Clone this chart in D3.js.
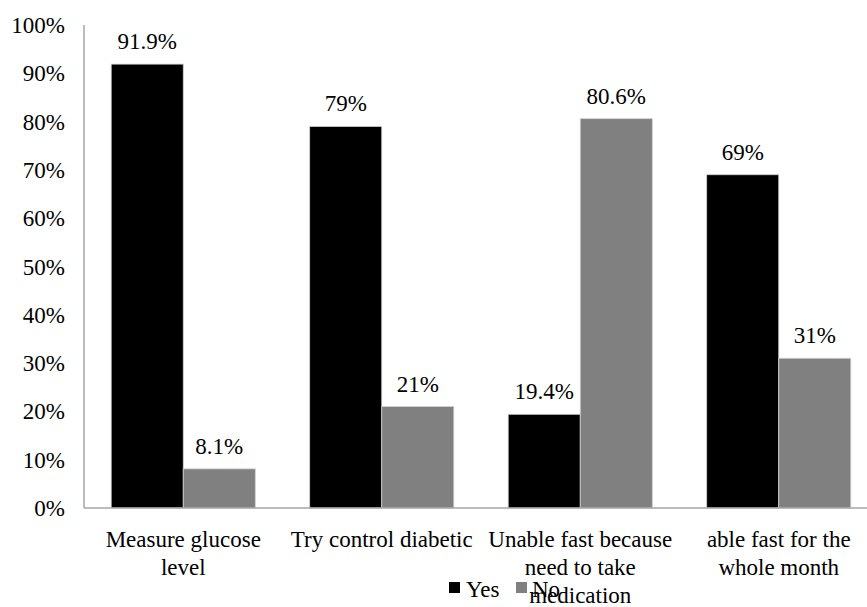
<!DOCTYPE html>
<html>
<head>
<meta charset="utf-8">
<script src="https://cdn.jsdelivr.net/npm/d3@7"></script>
</head>
<body style="margin:0">
<svg id="chart" width="867" height="607"></svg>
<script>
// Survey responses, percentage of respondents
const categories = [
  ["Measure glucose", "level"],
  ["Try control diabetic"],
  ["Unable fast because", "need to take", "medication"],
  ["able fast for the", "whole month"]
];
const seriesNames = ["Yes", "No"];
const yesValues = [91.9, 79, 19.4, 69];
const noValues = [8.1, 21, 80.6, 31];
const valueLabels = [["91.9%", "79%", "19.4%", "69%"], ["8.1%", "21%", "80.6%", "31%"]];
const yTicks = [0, 10, 20, 30, 40, 50, 60, 70, 80, 90, 100];

const FONT = '"Liberation Serif"';
const FS = 23;
const colors = { Yes: "#000000", No: "#808080" };
const svg = d3.select("#chart");

const plot = { left: 84, right: 878, top: 25, bottom: 508 };

const x0 = d3.scaleBand()
  .domain(d3.range(categories.length))
  .range([plot.left, plot.right])
  .paddingInner(0.274)
  .paddingOuter(0.137);

const x1 = d3.scaleBand()
  .domain(seriesNames)
  .range([0, x0.bandwidth()]);

const y = d3.scaleLinear().domain([0, 100]).range([plot.bottom, plot.top]);

// bars
const series = [yesValues, noValues];
const groups = svg.append("g")
  .selectAll("g")
  .data(categories.map((c, i) => i))
  .join("g")
  .attr("transform", i => `translate(${x0(i)},0)`);

groups.selectAll("rect")
  .data(i => seriesNames.map((s, k) => ({ s, k, i, v: series[k][i] })))
  .join("rect")
  .attr("x", d => x1(d.s))
  .attr("y", d => y(d.v))
  .attr("width", x1.bandwidth())
  .attr("height", d => y(0) - y(d.v))
  .attr("fill", d => colors[d.s])
  .attr("stroke", "#d0d0d0")
  .attr("stroke-width", 0.8);

// axis lines
svg.append("line")
  .attr("x1", plot.left).attr("x2", plot.left)
  .attr("y1", plot.top).attr("y2", plot.bottom)
  .attr("stroke", "#a6a6a6").attr("stroke-width", 1.5);
svg.append("line")
  .attr("x1", plot.left).attr("x2", 867)
  .attr("y1", plot.bottom).attr("y2", plot.bottom)
  .attr("stroke", "#a6a6a6").attr("stroke-width", 1.5);

// legend swatches
const legendItems = [
  { name: "Yes", sx: 449, tx: 466 },
  { name: "No", sx: 516, tx: 532 }
];
svg.append("g").selectAll("rect")
  .data(legendItems)
  .join("rect")
  .attr("x", d => d.sx)
  .attr("y", 582)
  .attr("width", 11)
  .attr("height", 11)
  .attr("fill", d => colors[d.name]);

// every text item: y tick labels, value labels, legend names, category lines
const texts = [];
yTicks.forEach(t => texts.push({ x: 65, y: y(t) + 8, anchor: "end", s: t + "%" }));
seriesNames.forEach((name, k) => series[k].forEach((v, i) => texts.push({
  x: x0(i) + x1(name) + x1.bandwidth() / 2, y: y(v) - 15, anchor: "middle", s: valueLabels[k][i]
})));
legendItems.forEach(d => texts.push({ x: d.tx, y: 597, anchor: "start", s: d.name }));
categories.forEach((lines, i) => lines.forEach((line, j) => texts.push({
  x: x0(i) + x0.bandwidth() / 2, y: 547 + j * 28, anchor: "middle", s: line
})));

svg.append("g").selectAll("text")
  .data(texts)
  .join("text")
  .attr("x", d => d.x)
  .attr("y", d => d.y)
  .attr("text-anchor", d => d.anchor)
  .attr("font-size", FS)
  .attr("fill", "#000")
  .style("font-family", FONT)
  .text(d => d.s);
</script>
</body>
</html>
